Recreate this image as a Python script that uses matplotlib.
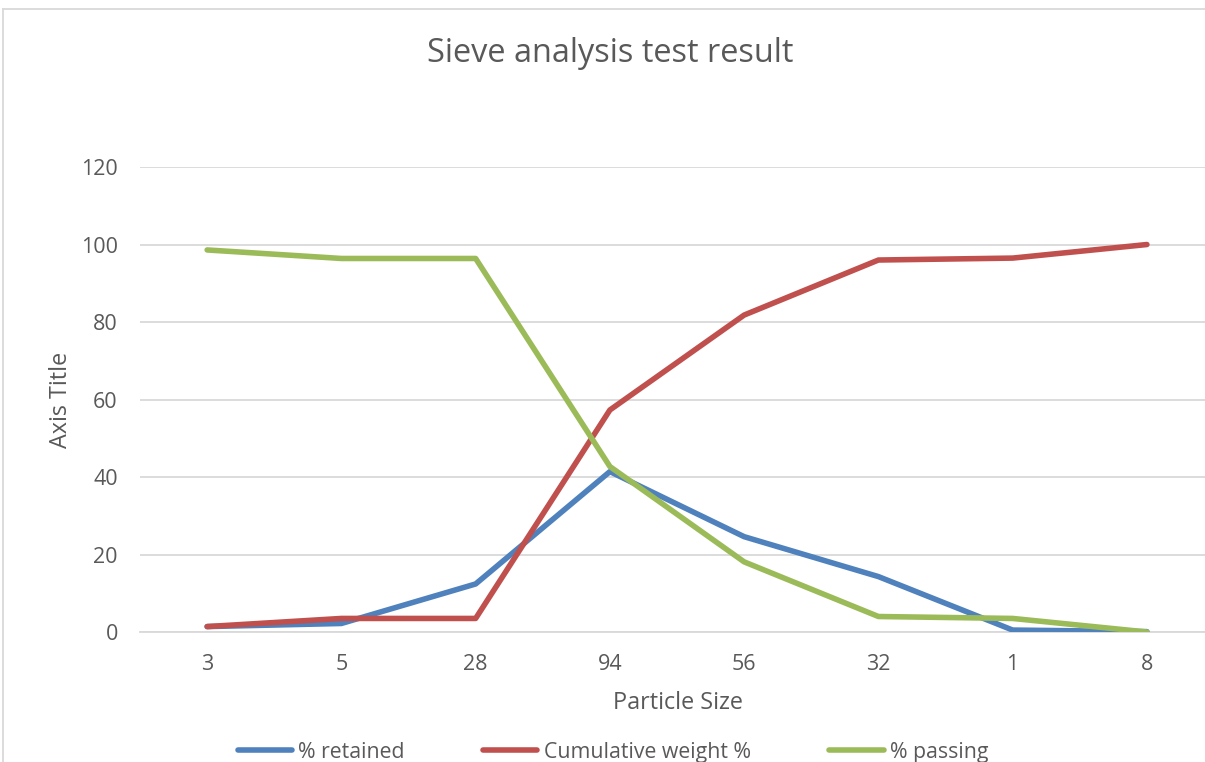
import matplotlib
matplotlib.use("Agg")
import matplotlib.pyplot as plt
from matplotlib.lines import Line2D

# Sieve analysis data
sizes = ["3", "5", "28", "94", "56", "32", "1", "8"]
retained = [1.4, 2.2, 12.4, 41.4, 24.6, 14.3, 0.5, 0.1]
cumulative = [1.4, 3.5, 3.5, 57.3, 81.8, 96.0, 96.5, 100.0]
passing = [98.6, 96.4, 96.4, 42.7, 18.1, 4.0, 3.5, 0.0]
yticks = [0, 20, 40, 60, 80, 100, 120]

text_color = "#595959"
grid_color = "#d9d9d9"
plt.rcParams["font.family"] = ["Open Sans", "DejaVu Sans"]

fig = plt.figure(figsize=(12.05, 7.62), dpi=100)
ax = fig.add_axes([0.1162, 0.1706, 0.8913, 0.6102])

# chart frame (top and left edges)
fig.add_artist(Line2D([0.0028, 1.0], [0.988, 0.988], transform=fig.transFigure,
                      color=grid_color, lw=1.3))
fig.add_artist(Line2D([0.0028, 0.0028], [0.0, 0.988], transform=fig.transFigure,
                      color=grid_color, lw=1.3))

x = range(len(sizes))
ax.plot(x, retained, color="#4F81BD", lw=4.0, solid_capstyle="round", label="% retained", zorder=3)
ax.plot(x, cumulative, color="#C0504D", lw=4.0, solid_capstyle="round", label="Cumulative weight %", zorder=3)
ax.plot(x, passing, color="#9BBB59", lw=4.0, solid_capstyle="round", label="% passing", zorder=3)

ax.set_xlim(-0.5, len(sizes) - 0.5)
ax.set_ylim(0, 120)
ax.set_xticks(list(x))
ax.set_xticklabels(sizes)
ax.set_yticks(yticks)
ax.grid(axis="y", color=grid_color, lw=1.3)
ax.set_axisbelow(True)
for s in ["top", "right", "left"]:
    ax.spines[s].set_visible(False)
ax.spines["bottom"].set_color(grid_color)
ax.spines["bottom"].set_linewidth(1.3)
ax.tick_params(length=0, labelsize=15.5, colors=text_color, pad=16)
ax.tick_params(axis="y", pad=16)

fig.text(0.506, 0.930, "Sieve analysis test result", ha="center", va="center",
         fontsize=23.4, color=text_color)
fig.text(0.5625, 0.078, "Particle Size", ha="center", va="center", fontsize=16.8, color=text_color)
fig.text(0.051, 0.475, "Axis Title", ha="center", va="center", rotation=90,
         fontsize=16.8, color=text_color)

fig.legend(loc="center", bbox_to_anchor=(0.5087, 0.013), ncol=3, frameon=False,
           fontsize=15.3, handlelength=2.55, handletextpad=0.3, columnspacing=3.7,
           labelcolor=text_color)

fig.savefig("out.png", dpi=100)
